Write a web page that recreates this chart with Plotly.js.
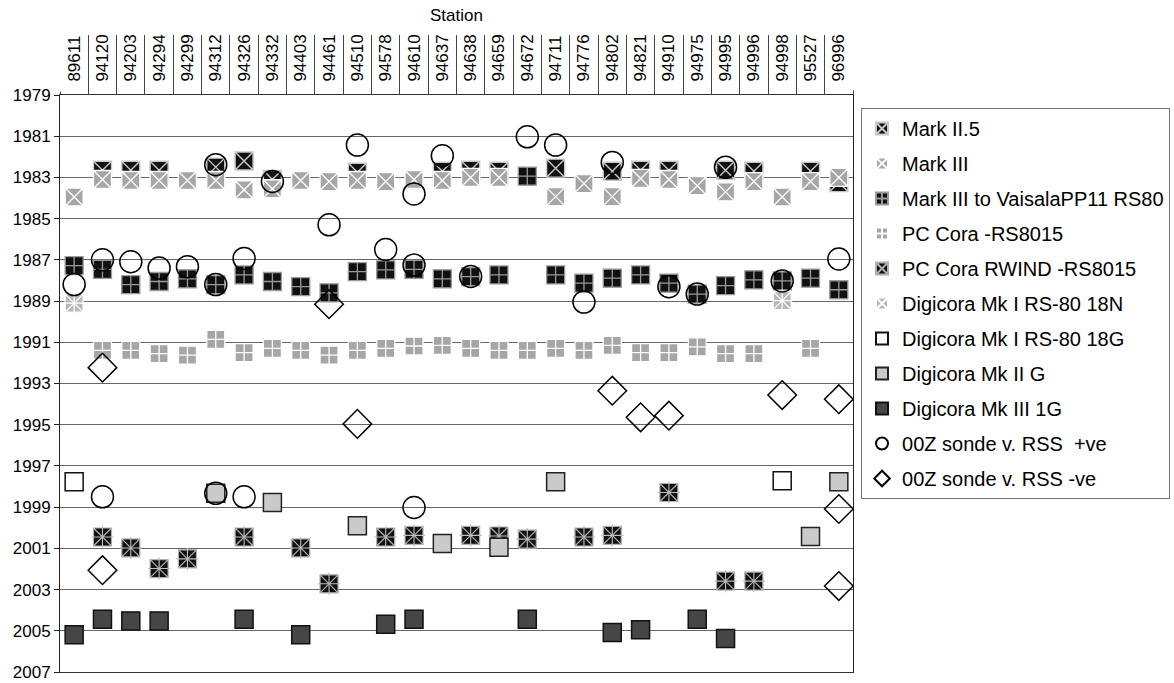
<!DOCTYPE html>
<html>
<head>
<meta charset="utf-8">
<script src="https://cdn.plot.ly/plotly-3.0.1.min.js"></script>
<style>html,body{margin:0;padding:0;background:#fff;}#chart{width:1174px;height:683px;}</style>
</head>
<body>
<div id="chart"></div>
<script>
const stations = ["89611","94120","94203","94294","94299","94312","94326","94332","94403","94461","94510","94578","94610","94637","94638","94659","94672","94711","94776","94802","94821","94910","94975","94995","94996","94998","95527","96996"];
const yearTicks = [1979,1981,1983,1985,1987,1989,1991,1993,1995,1997,1999,2001,2003,2005,2007];

const markII5_x = ["94120","94203","94294","94312","94326","94332","94510","94637","94638","94659","94711","94802","94821","94910","94995","94996","95527","96996"];
const markII5_y = [1982.65,1982.65,1982.65,1982.5,1982.2,1983.1,1982.75,1982.7,1982.65,1982.7,1982.55,1982.7,1982.65,1982.65,1982.65,1982.7,1982.7,1983.25];

const markIII_x = ["89611","94120","94203","94294","94299","94312","94326","94332","94403","94461","94510","94578","94610","94637","94638","94659","94711","94776","94802","94821","94910","94975","94995","94996","94998","95527","96996"];
const markIII_y = [1983.95,1983.1,1983.15,1983.15,1983.15,1983.15,1983.6,1983.55,1983.15,1983.2,1983.15,1983.2,1983.1,1983.15,1983.0,1983.0,1983.93,1983.3,1983.93,1983.05,1983.1,1983.4,1983.7,1983.2,1983.95,1983.2,1983.0];

const vaisala_x = ["89611","94120","94203","94294","94299","94312","94326","94332","94403","94461","94510","94578","94610","94637","94638","94659","94672","94711","94776","94802","94821","94910","94975","94995","94996","94998","95527","96996"];
const vaisala_y = [1987.28,1987.46,1988.2,1988.05,1987.92,1988.2,1987.73,1988.05,1988.3,1988.6,1987.57,1987.49,1987.46,1987.92,1987.81,1987.73,1982.94,1987.73,1988.13,1987.89,1987.73,1988.13,1988.66,1988.25,1987.97,1988.02,1987.89,1988.45];

const pcCora_x = ["94120","94203","94294","94299","94312","94326","94332","94403","94461","94510","94578","94610","94637","94638","94659","94672","94711","94776","94802","94821","94910","94975","94995","94996","95527"];
const pcCora_y = [1991.39,1991.39,1991.55,1991.62,1990.86,1991.5,1991.3,1991.39,1991.62,1991.39,1991.3,1991.18,1991.15,1991.3,1991.39,1991.39,1991.3,1991.39,1991.15,1991.5,1991.5,1991.22,1991.55,1991.55,1991.3];

const rwind_x = ["94120","94203","94294","94299","94326","94403","94461","94578","94610","94638","94659","94672","94776","94802","94910","94995","94996"];
const rwind_y = [2000.45,2000.98,2001.98,2001.51,2000.45,2000.98,2002.72,2000.45,2000.37,2000.37,2000.4,2000.55,2000.45,2000.37,1998.29,2002.59,2002.59];

const mkI18N_x = ["89611","94998"];
const mkI18N_y = [1989.1,1988.98];

const mkI18G_x = ["89611","94998"];
const mkI18G_y = [1997.77,1997.72];

const mkIIG_x = ["94312","94332","94510","94637","94659","94711","95527","96996"];
const mkIIG_y = [1998.33,1998.78,1999.9,2000.77,2000.95,1997.77,2000.42,1997.77];

const mkIII1G_x = ["89611","94120","94203","94294","94326","94403","94578","94610","94672","94802","94821","94975","94995"];
const mkIII1G_y = [2005.19,2004.44,2004.52,2004.52,2004.44,2005.19,2004.68,2004.44,2004.44,2005.08,2004.95,2004.44,2005.37];

const pos_x = ["89611","94120","94203","94294","94299","94312","94312","94326","94332","94461","94510","94578","94610","94610","94637","94638","94672","94711","94776","94802","94910","94975","94995","94998","96996","94120","94312","94326","94610"];
const pos_y = [1988.2,1987.0,1987.09,1987.4,1987.33,1982.38,1988.2,1986.93,1983.2,1985.3,1981.43,1986.5,1983.8,1987.25,1981.95,1987.81,1981.03,1981.43,1989.05,1982.27,1988.3,1988.66,1982.5,1988.02,1986.96,1998.5,1998.33,1998.5,1999.02];

const neg_x = ["94461","94120","94510","94120","94802","94821","94910","94998","96996","96996","96996"];
const neg_y = [1989.15,1992.23,1994.96,2002.06,1993.35,1994.64,1994.56,1993.56,1993.76,1999.09,2002.83];

const SQ = 18;
function tr(name, xs, ys, marker, show) {
  return {type:'scatter', mode:'markers', name:name, x:xs, y:ys, marker:marker,
          showlegend: show !== false, legendgroup: name, hoverinfo:'x+y+name', cliponaxis:false};
}
const traces = [
  tr('Mark II.5', markII5_x, markII5_y, {symbol:'square-x', size:SQ, color:'#111', line:{color:'#c8c8c8', width:1.4}}),
  tr('Mark III', markIII_x, markIII_y, {symbol:'square-x', size:SQ, color:'#a6a6a6', line:{color:'#ffffff', width:1.3}}),
  tr('Mark III to VaisalaPP11 RS80', vaisala_x, vaisala_y, {symbol:'square-cross', size:SQ, color:'#111', line:{color:'#9a9a9a', width:1.3}}),
  tr('PC Cora -RS8015', pcCora_x, pcCora_y, {symbol:'square-cross', size:SQ, color:'#a6a6a6', line:{color:'#ffffff', width:1.3}}),
  tr('PC Cora RWIND -RS8015', rwind_x, rwind_y, {symbol:'square-x', size:SQ, color:'#111', line:{color:'#b0b0b0', width:1.2}}),
  Object.assign(tr('PC Cora RWIND -RS8015', rwind_x, rwind_y, {symbol:'cross-thin', size:SQ-2, color:'#c0c0c0', line:{color:'#c0c0c0', width:1.1}}, false), {hoverinfo:'skip'}),
  tr('Digicora Mk I RS-80 18N', mkI18N_x, mkI18N_y, {symbol:'square-x', size:SQ, color:'#b8b8b8', line:{color:'#ffffff', width:1.3}}),
  Object.assign(tr('Digicora Mk I RS-80 18N', mkI18N_x, mkI18N_y, {symbol:'cross-thin', size:SQ-2, color:'#ffffff', line:{color:'#ffffff', width:1.3}}, false), {hoverinfo:'skip'}),
  tr('Digicora Mk I RS-80 18G', mkI18G_x, mkI18G_y, {symbol:'square', size:SQ, color:'#ffffff', line:{color:'#111', width:1.5}}),
  tr('Digicora Mk II G', mkIIG_x, mkIIG_y, {symbol:'square', size:SQ, color:'#cacaca', line:{color:'#222', width:1.5}}),
  tr('Digicora Mk III 1G', mkIII1G_x, mkIII1G_y, {symbol:'square', size:SQ, color:'#464646', line:{color:'#111', width:1.5}}),
  tr('00Z sonde v. RSS  +ve', pos_x, pos_y, {symbol:'circle-open', size:22, color:'#000', line:{color:'#000', width:1.5}}),
  tr('00Z sonde v. RSS -ve', neg_x, neg_y, {symbol:'diamond-open', size:22, color:'#000', line:{color:'#000', width:1.5}})
];

const FONT = 'Liberation Sans, Arial, Helvetica, sans-serif';
const layout = {
  width:1174, height:683,
  margin:{l:60, r:321, t:95, b:11, autoexpand:false},
  paper_bgcolor:'#fff', plot_bgcolor:'#fff',
  font:{family:FONT, size:17, color:'#000'},
  title:{text:'Station', font:{family:FONT, size:17, color:'#000'}, xref:'paper', x:0.5, xanchor:'center',
         yref:'container', y:0.978, yanchor:'middle'},
  showlegend:true,
  legend:{x:1.0101, y:0.9775, xanchor:'left', yanchor:'top', bgcolor:'#fff', bordercolor:'#777', borderwidth:1,
          font:{family:FONT, size:20, color:'#000'}, itemsizing:'constant', traceorder:'grouped', tracegroupgap:6},
  xaxis:{type:'category', categoryorder:'array', categoryarray:stations, range:[-0.5, stations.length-0.5],
         side:'top', tickangle:-90, ticks:'outside', tickson:'boundaries', ticklen:59, tickcolor:'#444', tickwidth:1,
         ticklabelstandoff:9, showline:true, mirror:true, linecolor:'#333', linewidth:1, showgrid:false, zeroline:false,
         tickfont:{family:FONT, size:17, color:'#000'}, fixedrange:true},
  yaxis:{range:[2007,1979], tickmode:'array', tickvals:yearTicks, ticktext:yearTicks.map(String),
         ticks:'outside', ticklen:5, tickcolor:'#222', showline:true, linecolor:'#222', linewidth:1, mirror:true,
         showgrid:true, gridcolor:'#666', gridwidth:1, zeroline:false, ticklabeloverflow:'allow',
         tickfont:{family:FONT, size:17, color:'#000'}, fixedrange:true},
  shapes:[
    {type:'line', xref:'paper', yref:'paper', x0:0, x1:0, y0:1.006, y1:1.12, line:{color:'#fff', width:4}, layer:'above'},
    {type:'line', xref:'paper', yref:'paper', x0:1, x1:1, y0:1.008, y1:1.12, line:{color:'#fff', width:4}, layer:'above'}
  ]
};
Plotly.newPlot('chart', traces, layout, {staticPlot:true, displayModeBar:false});
</script>
</body>
</html>
